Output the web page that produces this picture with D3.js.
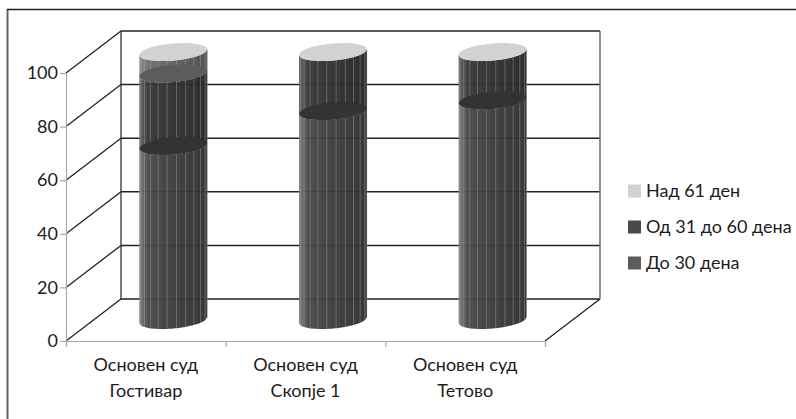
<!DOCTYPE html>
<html>
<head>
<meta charset="utf-8">
<style>
  html, body { margin: 0; padding: 0; background: #fff; }
  svg { display: block; }
  text { font-family: "Lato", "Open Sans", sans-serif; fill: #1c1c1c; }
</style>
</head>
<body>
<script src="https://d3js.org/d3.v7.min.js"></script>
<script>
var categories = [["Основен суд", "Гостивар"], ["Основен суд", "Скопје 1"], ["Основен суд", "Тетово"]];
var seriesNames = ["До 30 дена", "Од 31 до 60 дена", "Над 61 ден"];
var upTo30 = [65, 78, 82];
var from31to60 = [27, 22, 18];
var over61 = [8, 0, 0];
var yTicks = [0, 20, 40, 60, 80, 100];
var legendOrder = [2, 1, 0];

var seriesValues = [upTo30, from31to60, over61];
// side colours [left edge, near left, right edge] and colour of the ellipse on top of each series
var sideColors = [["#7a7a7a", "#464646", "#2e2e2e"], ["#606060", "#363636", "#242424"], ["#8a8a8a", "#6c6c6c", "#4c4c4c"]];
var capColors = ["#333333", "#5c5c5c", "#d2d2d2"];
var legendColors = ["#5c5c5c", "#4a4a4a", "#d2d2d2"];

var width = 796, height = 419;
var frontLeft = 66, frontRight = 545, floorY = 341, topY = 73;
var depthX = 55, depthY = -42;

var svg = d3.select("body").append("svg").attr("width", width).attr("height", height);

// outer frame, open on the right and at the bottom
svg.append("line").attr("x1", 7.5).attr("x2", 7.5).attr("y1", 9).attr("y2", 419)
  .attr("stroke", "#666").attr("stroke-width", 2);
svg.append("line").attr("x1", 7).attr("x2", 796).attr("y1", 9.5).attr("y2", 9.5)
  .attr("stroke", "#222").attr("stroke-width", 1.6);

var x = d3.scaleBand().domain(d3.range(categories.length)).range([frontLeft, frontRight]);
var y = d3.scaleLinear().domain([0, 100]).range([floorY, topY]);

// back wall and gridlines
var wall = svg.append("g");
wall.selectAll("line.grid").data(yTicks).enter().append("line")
  .attr("class", "grid")
  .attr("x1", frontLeft + depthX).attr("x2", frontRight + depthX)
  .attr("y1", function(d){ return y(d) + depthY; })
  .attr("y2", function(d){ return y(d) + depthY; })
  .attr("stroke", "#222").attr("stroke-width", 1.5);
wall.selectAll("line.depth").data(yTicks).enter().append("line")
  .attr("class", "depth")
  .attr("x1", frontLeft).attr("x2", frontLeft + depthX)
  .attr("y1", function(d){ return y(d); })
  .attr("y2", function(d){ return y(d) + depthY; })
  .attr("stroke", "#222").attr("stroke-width", 1.3);
wall.append("line")
  .attr("x1", frontLeft + depthX).attr("x2", frontLeft + depthX)
  .attr("y1", y(0) + depthY).attr("y2", y(100) + depthY)
  .attr("stroke", "#222").attr("stroke-width", 1.2);
wall.append("line")
  .attr("x1", frontRight + depthX).attr("x2", frontRight + depthX)
  .attr("y1", y(0) + depthY).attr("y2", y(100) + depthY)
  .attr("stroke", "#777").attr("stroke-width", 1.6);
wall.append("line")
  .attr("x1", frontRight).attr("x2", frontRight + depthX)
  .attr("y1", y(0)).attr("y2", y(0) + depthY)
  .attr("stroke", "#222").attr("stroke-width", 1.3);

// front axes
var yAxis = svg.append("g").attr("transform", "translate(" + frontLeft + ",0)")
  .call(d3.axisLeft(y).tickValues(yTicks).tickSize(6).tickPadding(2));
var xAxis = svg.append("g").attr("transform", "translate(0," + floorY + ")")
  .call(d3.axisBottom(d3.scaleLinear().domain([0, categories.length]).range([frontLeft, frontRight]))
    .ticks(categories.length).tickSize(6).tickFormat(""));
[yAxis, xAxis].forEach(function(a){
  a.selectAll("path, line").attr("stroke", "#a8a8a8").attr("stroke-width", 1.2);
});
yAxis.selectAll("text").style("font-size", "18px").attr("fill", "#1c1c1c");

// category labels
categories.forEach(function(lines, i){
  lines.forEach(function(t, j){
    svg.append("text")
      .attr("x", x(i) + x.bandwidth() / 2)
      .attr("y", 371 + j * 26)
      .attr("text-anchor", "middle")
      .style("font-size", "18px")
      .text(t);
  });
});

// cylinders
var rx = 34, ry = 8.5, tilt = -5;
var facetCount = 34;
var defs = svg.append("defs");
sideColors.forEach(function(colors, s){
  var g = defs.append("linearGradient").attr("id", "side" + s);
  g.selectAll("stop").data(colors).enter().append("stop")
    .attr("offset", function(d, i){ return i === 0 ? "0%" : i === 1 ? "14%" : "100%"; })
    .attr("stop-color", function(d){ return d; });
});

function edgeOffset(px){
  // vertical offset of the ellipse's lower edge, px in -1..1 across the width
  var dx = px * rx;
  return dx * Math.tan(tilt * Math.PI / 180) + ry * Math.sqrt(Math.max(0, 1 - px * px));
}

var cyl = svg.append("g");
categories.forEach(function(c, i){
  var cx = x(i) + x.bandwidth() / 2 + depthX / 2;
  var base = depthY / 2;
  var sum = 0;
  var caps = [];
  seriesValues.forEach(function(vals, s){
    var v = vals[i];
    if (!v) return;
    var y0 = y(sum) + base, y1 = y(sum + v) + base;
    sum += v;
    caps.push({s: s, y: y1});
    var pts = d3.range(-1, 1.001, 0.05);
    var bottom = pts.map(function(p){ return [cx + p * rx, y0 + edgeOffset(p)]; });
    var top = pts.slice().reverse().map(function(p){ return [cx + p * rx, y1 + edgeOffset(p)]; });
    var seg = cyl.append("g").attr("opacity", 0.96);
    seg.append("path")
      .attr("d", d3.line()(bottom.concat(top)) + "Z")
      .attr("fill", "url(#side" + s + ")");
    // thin lighter facets along the side
    d3.range(1, facetCount).forEach(function(k){
      if (k % 3 === 2) return;
      var p = -Math.cos(k * Math.PI / facetCount);
      seg.append("line")
        .attr("x1", cx + p * rx).attr("x2", cx + p * rx)
        .attr("y1", y0 + edgeOffset(p)).attr("y2", y1 + edgeOffset(p))
        .attr("stroke", "#a8a8a8")
        .attr("stroke-opacity", k % 3 === 0 ? 0.55 : 0.1)
        .attr("stroke-width", 0.8);
    });
  });
  // boundary ellipses sit over the sides; the top of the stack is always the light cap
  caps.forEach(function(cap, n){
    cyl.append("ellipse")
      .attr("transform", "translate(" + cx + "," + cap.y + ") rotate(" + tilt + ")")
      .attr("rx", rx).attr("ry", ry)
      .attr("fill", n === caps.length - 1 ? capColors[2] : capColors[cap.s]);
  });
});

// legend
var legend = svg.append("g");
legendOrder.forEach(function(s, i){
  var ly = 191 + i * 36;
  legend.append("rect")
    .attr("x", 628).attr("y", ly - 6.5).attr("width", 13).attr("height", 13)
    .attr("fill", legendColors[s]);
  legend.append("text")
    .attr("x", 646).attr("y", ly + 6)
    .style("font-size", "18px")
    .text(seriesNames[s]);
});
</script>
</body>
</html>
